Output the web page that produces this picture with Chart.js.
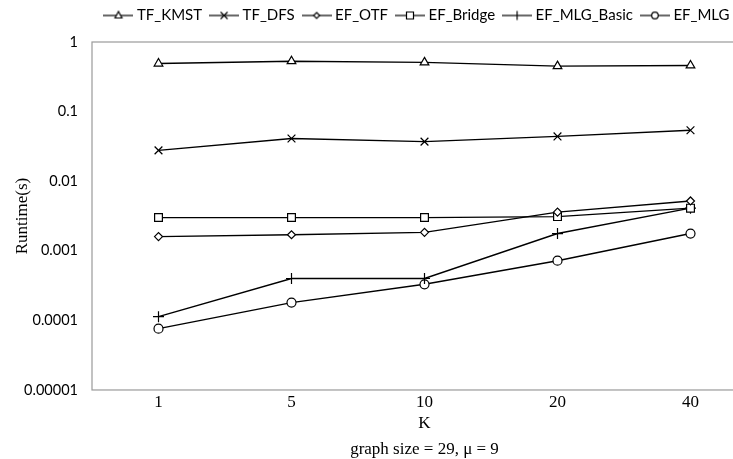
<!DOCTYPE html>
<html>
<head>
<meta charset="utf-8">
<script src="https://cdn.jsdelivr.net/npm/chart.js@4"></script>
<style>
  html, body { margin: 0; padding: 0; background: #fff; overflow: hidden; }
  #wrap { width: 790px; height: 459px; }
</style>
</head>
<body>
<div id="wrap"><canvas id="chart"></canvas></div>
<script>
// Data
const kValues = ["1", "5", "10", "20", "40"];
const tfKmst = [0.49, 0.53, 0.51, 0.45, 0.46];
const tfDfs = [0.0277, 0.041, 0.037, 0.044, 0.054];
const efOtf = [0.0016, 0.0017, 0.00184, 0.0036, 0.0052];
const efBridge = [0.0030, 0.0030, 0.0030, 0.0031, 0.0041];
const efMlgBasic = [0.000113, 0.0004, 0.0004, 0.00177, 0.0041];
const efMlg = [0.000076, 0.00018, 0.00033, 0.00072, 0.00177];
const yTicks = [1, 0.1, 0.01, 0.001, 0.0001, 0.00001];
const yTickLabels = ["1", "0.1", "0.01", "0.001", "0.0001", "0.00001"];

const sans = "Lato";
const serif = "'Liberation Serif'";

// legend sits off-centre in the original, move it after layout
const legendShiftX = 40;
const legendShiftY = -9;

// small legend icon: line with the marker in the middle
function legendIcon(style) {
    const c = document.createElement("canvas");
    c.width = 30; c.height = 12;
    const ctx = c.getContext("2d");
    ctx.strokeStyle = "#000";
    ctx.fillStyle = "#fff";
    ctx.lineWidth = 1.2;
    ctx.beginPath(); ctx.moveTo(0, 6); ctx.lineTo(30, 6); ctx.stroke();
    const x = 15, y = 6;
    ctx.beginPath();
    if (style === "triangle") {
        ctx.moveTo(x, y - 4); ctx.lineTo(x + 3.5, y + 2.5); ctx.lineTo(x - 3.5, y + 2.5); ctx.closePath();
        ctx.fill(); ctx.stroke();
    } else if (style === "crossRot") {
        ctx.moveTo(x - 3.5, y - 3.5); ctx.lineTo(x + 3.5, y + 3.5);
        ctx.moveTo(x + 3.5, y - 3.5); ctx.lineTo(x - 3.5, y + 3.5); ctx.stroke();
    } else if (style === "rectRot") {
        ctx.moveTo(x, y - 3); ctx.lineTo(x + 3, y); ctx.lineTo(x, y + 3); ctx.lineTo(x - 3, y); ctx.closePath();
        ctx.fill(); ctx.stroke();
    } else if (style === "rect") {
        ctx.rect(x - 3.5, y - 3.5, 7, 7); ctx.fill(); ctx.stroke();
    } else if (style === "cross") {
        ctx.moveTo(x, y - 4.5); ctx.lineTo(x, y + 4.5); ctx.stroke();
    } else {
        ctx.arc(x, y, 3.3, 0, Math.PI * 2); ctx.fill(); ctx.stroke();
    }
    return c;
}

function series(label, data, style, radius) {
    return {
        label: label,
        data: data,
        borderColor: "#000",
        borderWidth: 1.4,
        pointStyle: style,
        pointRadius: radius,
        pointBorderWidth: 1.2,
        pointBorderColor: "#000",
        pointBackgroundColor: "#fff",
        fill: false,
        tension: 0
    };
}

const frame = {
    id: "frame",
    afterLayout(chart) {
        const lg = chart.legend;
        lg.left += legendShiftX; lg.right += legendShiftX;
        lg.top += legendShiftY; lg.bottom += legendShiftY;
    },
    beforeDatasetsDraw(chart) {
        const a = chart.chartArea, ctx = chart.ctx;
        ctx.save();
        ctx.strokeStyle = "#9a9a9a";
        ctx.lineWidth = 1.2;
        ctx.strokeRect(a.left, a.top, a.right - a.left, a.bottom - a.top);
        ctx.restore();
    }
};

new Chart(document.getElementById("chart"), {
    type: "line",
    data: {
        labels: kValues,
        datasets: [
            series("TF_KMST", tfKmst, "triangle", 5),
            series("TF_DFS", tfDfs, "crossRot", 5.5),
            series("EF_OTF", efOtf, "rectRot", 4),
            series("EF_Bridge", efBridge, "rect", 5.5),
            series("EF_MLG_Basic", efMlgBasic, "cross", 5.5),
            series("EF_MLG", efMlg, "circle", 4.5)
        ]
    },
    options: {
        responsive: true,
        maintainAspectRatio: false,
        animation: false,
        layout: { padding: { left: 0, right: 33, top: 6, bottom: -4 } },
        plugins: {
            legend: {
                position: "top",
                labels: {
                    usePointStyle: true,
                    pointStyleWidth: 22,
                    padding: 11,
                    color: "#000",
                    font: { family: sans, size: 15 },
                    generateLabels(chart) {
                        return chart.data.datasets.map((d, i) => ({
                            text: d.label,
                            pointStyle: legendIcon(d.pointStyle),
                            fillStyle: "#fff",
                            strokeStyle: "#000",
                            lineWidth: 0,
                            hidden: false,
                            datasetIndex: i,
                            fontColor: "#000"
                        }));
                    }
                }
            },
            tooltip: { enabled: false }
        },
        scales: {
            x: {
                type: "category",
                offset: true,
                grid: { display: false, drawTicks: false },
                border: { display: false },
                ticks: { color: "#000", font: { family: serif, size: 17, lineHeight: 1 }, padding: 4 },
                title: {
                    display: true,
                    text: ["K", "graph size = 29, \u03bc = 9"],
                    color: "#000",
                    font: { family: serif, size: 17, lineHeight: 1.53 },
                    padding: { top: -4, bottom: 0 }
                }
            },
            y: {
                type: "logarithmic",
                min: 0.00001,
                max: 1,
                grid: { display: false, drawTicks: false },
                border: { display: false },
                afterBuildTicks(scale) {
                    scale.ticks = yTicks.map(v => ({ value: v }));
                },
                afterFit(scale) { scale.width = 92; },
                ticks: {
                    color: "#000",
                    padding: 14,
                    font: { family: sans, size: 14.5 },
                    callback(value) {
                        const i = yTicks.indexOf(value);
                        return i >= 0 ? yTickLabels[i] : "";
                    }
                },
                title: {
                    display: true,
                    text: "Runtime(s)",
                    color: "#000",
                    font: { family: serif, size: 17 },
                    padding: { top: 12, bottom: 0 }
                }
            }
        }
    },
    plugins: [frame]
});
</script>
</body>
</html>
